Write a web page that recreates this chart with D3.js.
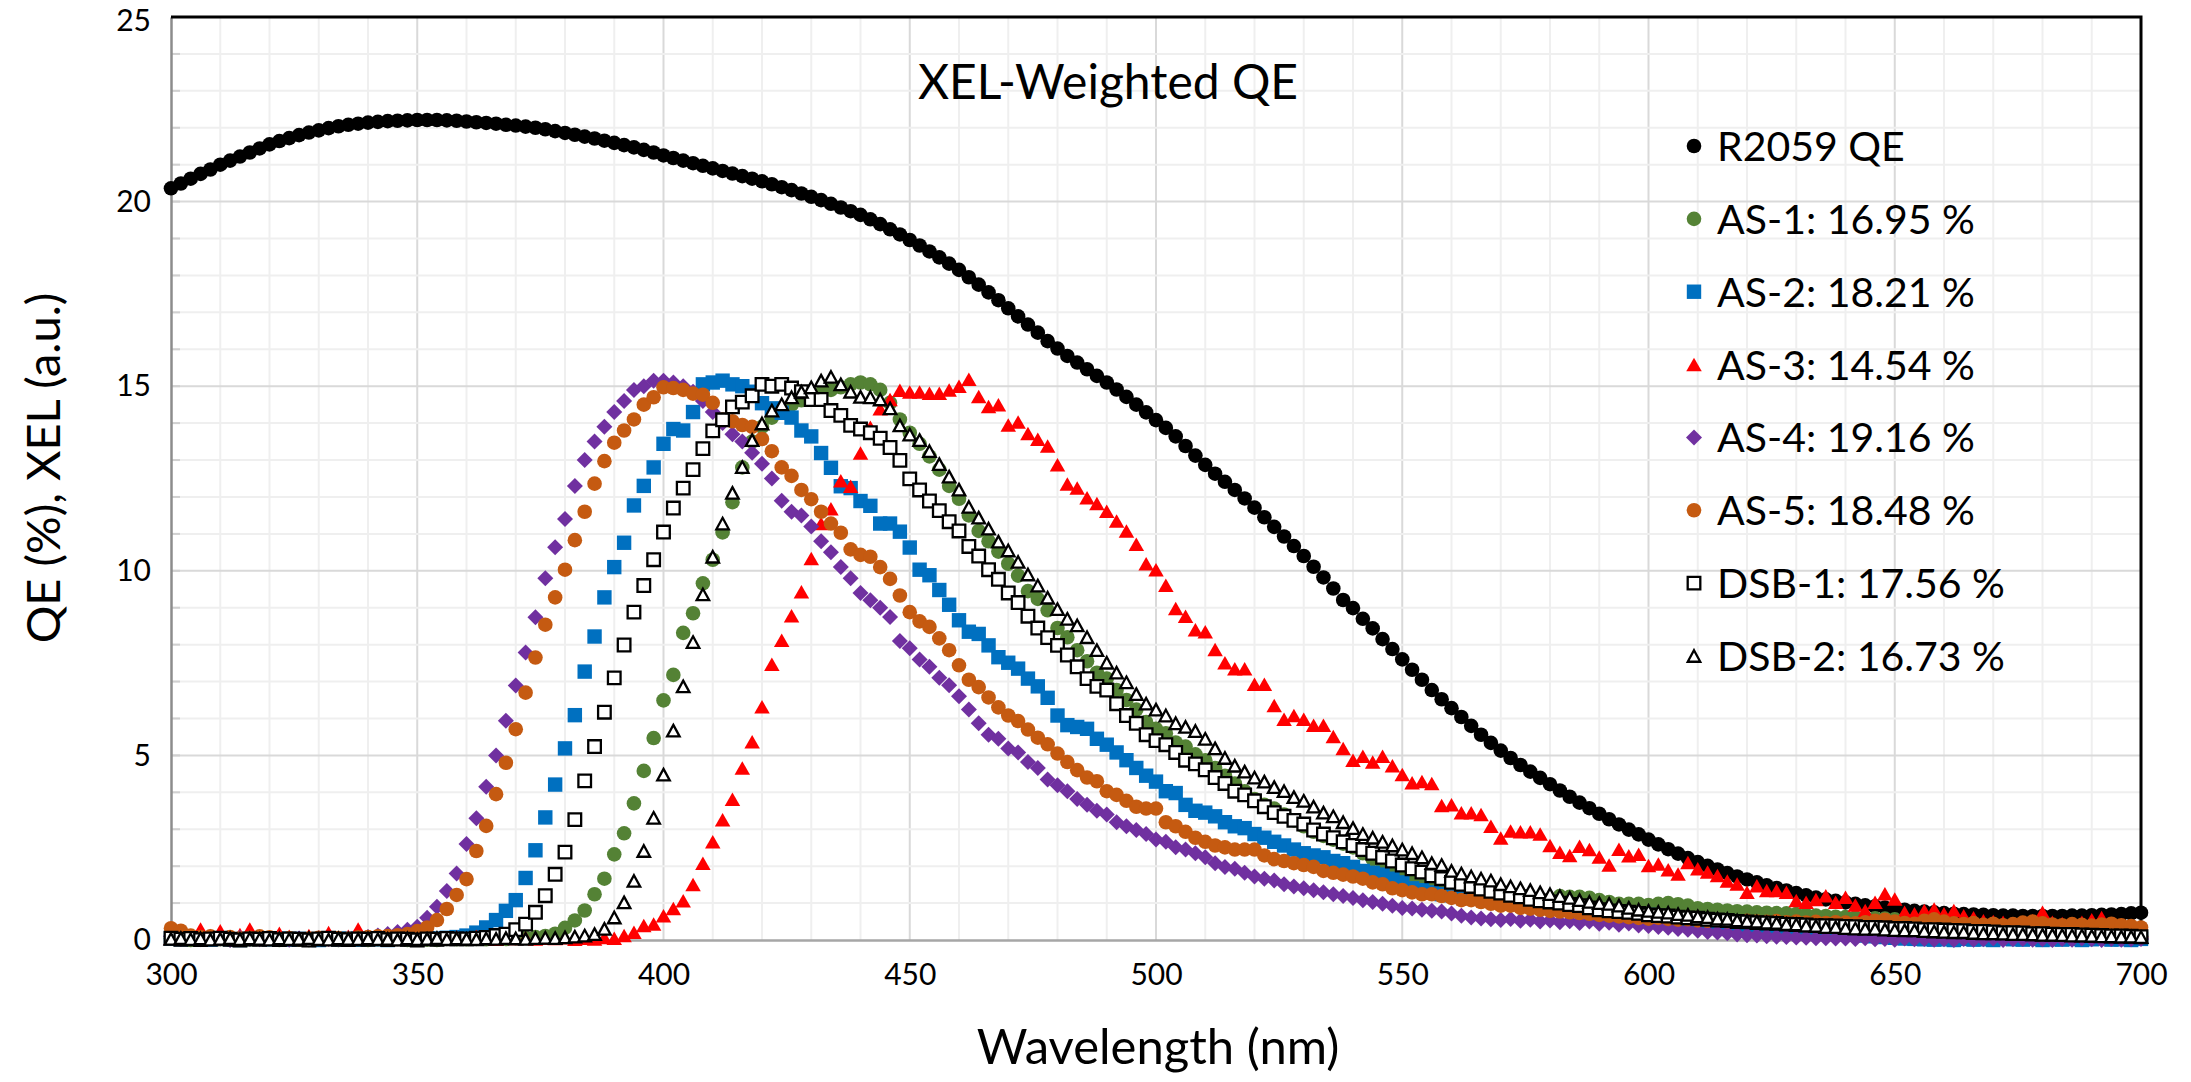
<!DOCTYPE html>
<html>
<head>
<meta charset="utf-8">
<script src="https://cdn.jsdelivr.net/npm/d3@7"></script>
<style>
  html, body { margin: 0; padding: 0; background: #fff; }
  svg { display: block; font-family: "Lato", "Noto Sans", sans-serif; }
</style>
</head>
<body>
<svg id="chart" width="2191" height="1082"></svg>
<script>
// ---------------- DATA ----------------
const wavelengths = d3.range(300, 702, 2); // 300 ... 700 nm, 2 nm step

const r2059QE = [
  20.36, 20.49, 20.62, 20.75, 20.87, 21.00, 21.11, 21.22, 21.33, 21.44,
  21.55, 21.64, 21.72, 21.80, 21.87, 21.93, 21.99, 22.04, 22.08, 22.11,
  22.14, 22.16, 22.18, 22.19, 22.20, 22.21, 22.21, 22.21, 22.20, 22.19,
  22.17, 22.15, 22.13, 22.11, 22.08, 22.06, 22.03, 22.00, 21.96, 21.91,
  21.86, 21.81, 21.76, 21.71, 21.65, 21.59, 21.53, 21.47, 21.40, 21.33,
  21.25, 21.18, 21.11, 21.04, 20.97, 20.90, 20.83, 20.76, 20.69, 20.62,
  20.55, 20.47, 20.39, 20.31, 20.22, 20.13, 20.04, 19.94, 19.84, 19.74,
  19.64, 19.52, 19.39, 19.25, 19.11, 18.96, 18.81, 18.65, 18.49, 18.32,
  18.15, 17.95, 17.75, 17.54, 17.33, 17.11, 16.89, 16.67, 16.45, 16.22,
  16.02, 15.82, 15.64, 15.46, 15.28, 15.10, 14.91, 14.71, 14.50, 14.29,
  14.08, 13.87, 13.64, 13.38, 13.12, 12.87, 12.63, 12.41, 12.19, 11.96,
  11.71, 11.45, 11.19, 10.93, 10.67, 10.40, 10.11, 9.82, 9.52, 9.21,
  8.99, 8.70, 8.44, 8.15, 7.88, 7.60, 7.32, 7.05, 6.77, 6.52,
  6.28, 6.04, 5.80, 5.56, 5.34, 5.13, 4.93, 4.74, 4.56, 4.39,
  4.22, 4.05, 3.88, 3.72, 3.57, 3.42, 3.27, 3.13, 2.99, 2.86,
  2.72, 2.59, 2.46, 2.34, 2.22, 2.11, 2.01, 1.91, 1.81, 1.72,
  1.64, 1.56, 1.48, 1.41, 1.34, 1.27, 1.21, 1.15, 1.10, 1.06,
  1.02, 0.98, 0.94, 0.91, 0.88, 0.85, 0.82, 0.79, 0.77, 0.75,
  0.73, 0.71, 0.70, 0.69, 0.68, 0.67, 0.66, 0.66, 0.65, 0.65,
  0.65, 0.65, 0.65, 0.66, 0.66, 0.67, 0.68, 0.69, 0.70, 0.72,
  0.74
];

const as1 = [
  0.05, 0.02, 0.00, 0.03, 0.06, 0.02, 0.00, 0.04, 0.01, 0.03,
  0.02, 0.00, 0.03, 0.01, 0.00, 0.02, 0.04, 0.00, 0.02, 0.01,
  0.00, 0.02, 0.01, 0.03, 0.00, 0.02, 0.01, 0.00, 0.03, 0.02,
  0.02, 0.03, 0.02, 0.04, 0.03, 0.05, 0.06, 0.08, 0.11, 0.17,
  0.33, 0.53, 0.80, 1.24, 1.66, 2.32, 2.89, 3.70, 4.58, 5.47,
  6.49, 7.18, 8.32, 8.85, 9.66, 10.30, 11.04, 11.86, 12.80, 13.50,
  13.90, 14.15, 14.35, 14.50, 14.62, 14.72, 14.82, 14.90, 14.97, 15.05,
  15.10, 15.05, 14.90, 14.55, 14.10, 13.74, 13.44, 13.10, 12.74, 12.30,
  11.95, 11.50, 11.08, 10.80, 10.52, 10.19, 9.87, 9.45, 9.24, 8.93,
  8.45, 8.20, 7.85, 7.55, 7.24, 7.08, 6.77, 6.50, 6.24, 5.90,
  5.72, 5.60, 5.35, 5.24, 5.03, 4.87, 4.66, 4.45, 4.24, 4.03,
  3.82, 3.66, 3.56, 3.40, 3.24, 3.08, 2.93, 2.82, 2.72, 2.61,
  2.51, 2.35, 2.19, 2.08, 1.98, 1.87, 1.72, 1.61, 1.51, 1.45,
  1.40, 1.32, 1.29, 1.24, 1.19, 1.17, 1.14, 1.14, 1.10, 1.08,
  1.06, 1.19, 1.17, 1.17, 1.14, 1.08, 1.03, 0.98, 0.98, 0.98,
  0.95, 0.98, 1.00, 0.97, 0.93, 0.86, 0.84, 0.82, 0.80, 0.78,
  0.77, 0.75, 0.74, 0.73, 0.72, 0.70, 0.68, 0.66, 0.65, 0.63,
  0.62, 0.61, 0.60, 0.59, 0.58, 0.56, 0.55, 0.53, 0.50, 0.48,
  0.45, 0.43, 0.40, 0.36, 0.30, 0.22, 0.05, 0.28, 0.25, 0.22,
  0.20, 0.02, 0.18, 0.16, 0.15, 0.14, 0.12, 0.11, 0.10, 0.10,
  0.10
];

const as2 = [
  0.04, 0.02, 0.05, 0.03, 0.01, 0.04, 0.02, 0.00, 0.03, 0.05,
  0.02, 0.04, 0.01, 0.03, 0.02, 0.00, 0.03, 0.02, 0.04, 0.01,
  0.03, 0.02, 0.00, 0.04, 0.03, 0.02, 0.05, 0.04, 0.06, 0.08,
  0.12, 0.20, 0.34, 0.54, 0.79, 1.08, 1.68, 2.43, 3.32, 4.21,
  5.19, 6.09, 7.27, 8.22, 9.28, 10.10, 10.76, 11.77, 12.30, 12.80,
  13.44, 13.84, 13.80, 14.30, 15.05, 15.10, 15.15, 15.05, 15.00, 14.85,
  14.54, 14.40, 14.28, 14.15, 13.80, 13.64, 13.19, 12.79, 12.29, 12.24,
  11.89, 11.76, 11.28, 11.28, 11.06, 10.63, 10.03, 9.88, 9.48, 9.08,
  8.66, 8.35, 8.29, 7.98, 7.66, 7.51, 7.35, 7.08, 6.87, 6.56,
  6.08, 5.82, 5.77, 5.72, 5.45, 5.29, 5.08, 4.87, 4.66, 4.45,
  4.29, 4.03, 3.98, 3.66, 3.50, 3.45, 3.35, 3.19, 3.08, 3.03,
  2.87, 2.77, 2.66, 2.56, 2.45, 2.35, 2.29, 2.24, 2.14, 2.08,
  1.98, 1.87, 1.82, 1.77, 1.66, 1.56, 1.40, 1.35, 1.29, 1.24,
  1.21, 1.19, 1.16, 1.12, 1.10, 1.07, 1.03, 1.00, 0.98, 0.95,
  0.92, 0.90, 0.87, 0.84, 0.82, 0.79, 0.76, 0.74, 0.72, 0.70,
  0.68, 0.65, 0.62, 0.58, 0.55, 0.52, 0.49, 0.46, 0.43, 0.40,
  0.38, 0.35, 0.33, 0.30, 0.28, 0.26, 0.24, 0.22, 0.20, 0.18,
  0.16, 0.14, 0.12, 0.10, 0.08, 0.06, 0.04, 0.03, 0.02, 0.01,
  0.02, 0.00, 0.03, 0.01, 0.02, 0.00, 0.04, 0.02, 0.01, 0.03,
  0.00, 0.02, 0.01, 0.03, 0.00, 0.02, 0.04, 0.01, 0.02, 0.00,
  0.03
];

const as3 = [
  0.05, 0.22, 0.08, 0.30, 0.12, 0.25, 0.05, 0.15, 0.30, 0.10,
  0.06, 0.18, 0.10, 0.04, 0.12, 0.08, 0.20, 0.05, 0.10, 0.30,
  0.08, 0.02, 0.12, 0.06, 0.15, 0.04, 0.10, 0.05, 0.02, 0.08,
  0.03, 0.10, 0.05, 0.02, 0.08, 0.04, 0.06, 0.03, 0.05, 0.04,
  0.06, 0.02, 0.05, 0.03, 0.07, 0.05, 0.12, 0.21, 0.39, 0.43,
  0.66, 0.85, 1.06, 1.50, 2.08, 2.66, 3.26, 3.81, 4.66, 5.37,
  6.32, 7.47, 8.12, 8.78, 9.43, 10.33, 11.28, 11.68, 12.44, 12.29,
  13.19, 13.89, 14.39, 14.64, 14.89, 14.84, 14.84, 14.81, 14.81, 14.90,
  15.00, 15.19, 14.72, 14.45, 14.50, 13.95, 14.03, 13.72, 13.56, 13.38,
  12.87, 12.35, 12.24, 11.98, 11.82, 11.61, 11.35, 11.08, 10.72, 10.19,
  10.03, 9.61, 8.98, 8.77, 8.40, 8.35, 7.87, 7.51, 7.35, 7.35,
  6.93, 6.93, 6.35, 5.98, 6.08, 5.98, 5.82, 5.82, 5.51, 5.19,
  4.87, 4.98, 4.82, 4.98, 4.72, 4.48, 4.26, 4.29, 4.24, 3.64,
  3.66, 3.45, 3.45, 3.40, 3.08, 2.76, 2.95, 2.93, 2.93, 2.87,
  2.56, 2.38, 2.29, 2.54, 2.45, 2.25, 2.03, 2.46, 2.28, 2.32,
  2.02, 2.06, 1.90, 1.79, 2.10, 1.93, 1.84, 1.75, 1.60, 1.52,
  1.29, 1.47, 1.34, 1.34, 1.29, 1.07, 1.02, 1.10, 1.20, 1.02,
  1.16, 0.95, 0.80, 1.02, 1.25, 1.11, 0.75, 0.71, 0.80, 0.84,
  0.71, 0.80, 0.66, 0.60, 0.52, 0.50, 0.48, 0.39, 0.45, 0.52,
  0.75, 0.48, 0.45, 0.43, 0.48, 0.55, 0.61, 0.43, 0.35, 0.30,
  0.25
];

const as4 = [
  0.10, 0.03, 0.05, 0.02, 0.08, 0.04, 0.00, 0.06, 0.03, 0.02,
  0.05, 0.03, 0.01, 0.04, 0.02, 0.05, 0.03, 0.02, 0.04, 0.06,
  0.08, 0.12, 0.16, 0.22, 0.28, 0.36, 0.60, 0.90, 1.33, 1.80,
  2.60, 3.30, 4.15, 5.00, 5.94, 6.89, 7.79, 8.74, 9.80, 10.64,
  11.40, 12.30, 13.00, 13.50, 13.90, 14.30, 14.60, 14.90, 15.00, 15.15,
  15.15, 15.10, 15.00, 14.85, 14.60, 14.30, 14.00, 13.70, 13.50, 13.20,
  12.90, 12.50, 11.90, 11.60, 11.50, 11.20, 10.80, 10.50, 10.10, 9.80,
  9.40, 9.20, 9.00, 8.75, 8.10, 7.90, 7.60, 7.40, 7.10, 6.90,
  6.60, 6.24, 5.87, 5.56, 5.45, 5.19, 5.08, 4.82, 4.66, 4.35,
  4.19, 4.03, 3.82, 3.66, 3.50, 3.40, 3.19, 3.08, 2.98, 2.87,
  2.72, 2.66, 2.51, 2.45, 2.35, 2.24, 2.08, 1.98, 1.93, 1.82,
  1.72, 1.66, 1.61, 1.51, 1.45, 1.40, 1.35, 1.29, 1.24, 1.19,
  1.14, 1.08, 1.03, 0.98, 0.93, 0.87, 0.85, 0.82, 0.79, 0.77,
  0.72, 0.66, 0.61, 0.58, 0.56, 0.54, 0.57, 0.52, 0.55, 0.50,
  0.53, 0.48, 0.51, 0.46, 0.50, 0.44, 0.47, 0.41, 0.45, 0.39,
  0.38, 0.35, 0.33, 0.30, 0.28, 0.25, 0.22, 0.20, 0.18, 0.15,
  0.13, 0.12, 0.10, 0.09, 0.08, 0.07, 0.06, 0.05, 0.05, 0.04,
  0.04, 0.03, 0.05, 0.02, 0.03, 0.01, 0.04, 0.02, 0.03, 0.01,
  0.02, 0.00, 0.03, 0.01, 0.02, 0.04, 0.00, 0.02, 0.03, 0.01,
  0.02, 0.00, 0.03, 0.01, 0.04, 0.02, 0.00, 0.03, 0.01, 0.02,
  0.03
];

const as5 = [
  0.32, 0.25, 0.12, 0.08, 0.10, 0.05, 0.08, 0.04, 0.06, 0.10,
  0.07, 0.03, 0.05, 0.02, 0.04, 0.06, 0.03, 0.05, 0.04, 0.07,
  0.08, 0.10, 0.11, 0.13, 0.16, 0.24, 0.34, 0.54, 0.84, 1.22,
  1.65, 2.41, 3.09, 3.95, 4.80, 5.71, 6.70, 7.65, 8.54, 9.28,
  10.03, 10.83, 11.60, 12.36, 12.97, 13.47, 13.80, 14.10, 14.50, 14.70,
  14.97, 14.95, 14.90, 14.80, 14.77, 14.55, 14.10, 14.05, 13.95, 13.90,
  13.57, 13.24, 12.80, 12.57, 12.19, 11.94, 11.60, 11.28, 11.03, 10.58,
  10.43, 10.38, 10.10, 9.78, 9.33, 8.88, 8.63, 8.48, 8.17, 7.85,
  7.44, 7.05, 6.85, 6.57, 6.30, 6.08, 5.93, 5.70, 5.48, 5.30,
  5.05, 4.82, 4.60, 4.40, 4.30, 4.03, 3.93, 3.77, 3.61, 3.56,
  3.56, 3.19, 3.08, 2.93, 2.77, 2.66, 2.56, 2.51, 2.45, 2.45,
  2.45, 2.29, 2.19, 2.14, 2.08, 2.03, 1.98, 1.87, 1.82, 1.77,
  1.72, 1.66, 1.56, 1.51, 1.40, 1.35, 1.29, 1.24, 1.24, 1.19,
  1.14, 1.08, 1.08, 1.03, 0.98, 0.93, 0.93, 0.87, 0.85, 0.82,
  0.79, 0.77, 0.75, 0.73, 0.71, 0.68, 0.66, 0.64, 0.62, 0.60,
  0.58, 0.60, 0.57, 0.55, 0.56, 0.53, 0.52, 0.54, 0.51, 0.50,
  0.52, 0.50, 0.49, 0.51, 0.48, 0.50, 0.47, 0.49, 0.46, 0.48,
  0.47, 0.45, 0.48, 0.52, 0.55, 0.50, 0.46, 0.44, 0.52, 0.56,
  0.50, 0.45, 0.43, 0.46, 0.41, 0.44, 0.40, 0.43, 0.47, 0.50,
  0.45, 0.42, 0.40, 0.43, 0.41, 0.39, 0.42, 0.44, 0.40, 0.38,
  0.34
];

const dsb1 = [
  0.05, 0.02, 0.04, 0.01, 0.03, 0.05, 0.02, 0.00, 0.03, 0.02,
  0.04, 0.01, 0.03, 0.02, 0.00, 0.03, 0.05, 0.02, 0.01, 0.03,
  0.02, 0.04, 0.01, 0.03, 0.02, 0.00, 0.03, 0.02, 0.04, 0.03,
  0.03, 0.05, 0.07, 0.12, 0.16, 0.28, 0.43, 0.75, 1.20, 1.78,
  2.38, 3.26, 4.31, 5.24, 6.17, 7.10, 7.99, 8.88, 9.60, 10.30,
  11.05, 11.70, 12.24, 12.74, 13.31, 13.79, 14.09, 14.44, 14.57, 14.74,
  15.05, 15.00, 15.05, 14.95, 14.85, 14.64, 14.64, 14.34, 14.21, 13.94,
  13.84, 13.74, 13.59, 13.34, 12.99, 12.49, 12.19, 11.89, 11.63, 11.33,
  11.08, 10.66, 10.40, 10.03, 9.77, 9.40, 9.14, 8.77, 8.45, 8.19,
  7.98, 7.72, 7.40, 7.08, 6.87, 6.77, 6.40, 6.08, 5.87, 5.56,
  5.40, 5.29, 5.08, 4.87, 4.77, 4.61, 4.40, 4.24, 4.03, 3.93,
  3.77, 3.61, 3.45, 3.35, 3.24, 3.14, 2.98, 2.87, 2.77, 2.66,
  2.56, 2.45, 2.35, 2.24, 2.14, 2.03, 1.93, 1.84, 1.74, 1.66,
  1.56, 1.51, 1.45, 1.38, 1.32, 1.27, 1.21, 1.17, 1.10, 1.06,
  1.03, 1.00, 0.96, 0.93, 0.87, 0.82, 0.79, 0.77, 0.75, 0.72,
  0.68, 0.66, 0.65, 0.62, 0.60, 0.59, 0.56, 0.54, 0.53, 0.50,
  0.49, 0.47, 0.46, 0.45, 0.43, 0.42, 0.41, 0.39, 0.39, 0.38,
  0.37, 0.36, 0.34, 0.34, 0.33, 0.31, 0.31, 0.30, 0.28, 0.28,
  0.27, 0.26, 0.25, 0.23, 0.23, 0.22, 0.20, 0.20, 0.19, 0.17,
  0.17, 0.16, 0.15, 0.15, 0.14, 0.13, 0.12, 0.11, 0.11, 0.10,
  0.09
];

const dsb2 = [
  0.03, 0.05, 0.02, 0.04, 0.01, 0.03, 0.05, 0.02, 0.04, 0.03,
  0.01, 0.04, 0.02, 0.03, 0.05, 0.02, 0.01, 0.04, 0.03, 0.02,
  0.04, 0.02, 0.03, 0.01, 0.04, 0.02, 0.03, 0.05, 0.02, 0.04,
  0.03, 0.02, 0.04, 0.03, 0.05, 0.04, 0.03, 0.05, 0.06, 0.05,
  0.07, 0.09, 0.12, 0.16, 0.30, 0.61, 1.02, 1.60, 2.41, 3.31,
  4.48, 5.67, 6.87, 8.07, 9.36, 10.38, 11.28, 12.11, 12.81, 13.54,
  13.99, 14.34, 14.51, 14.70, 14.85, 14.97, 15.15, 15.25, 15.05, 14.85,
  14.71, 14.70, 14.64, 14.40, 13.94, 13.69, 13.54, 13.24, 12.89, 12.55,
  12.20, 11.73, 11.44, 11.14, 10.79, 10.55, 10.24, 9.90, 9.60, 9.27,
  8.96, 8.70, 8.52, 8.20, 7.85, 7.51, 7.24, 6.98, 6.66, 6.40,
  6.24, 6.08, 5.87, 5.77, 5.66, 5.45, 5.19, 4.93, 4.72, 4.56,
  4.40, 4.29, 4.14, 4.03, 3.87, 3.77, 3.61, 3.45, 3.35, 3.19,
  3.03, 2.87, 2.77, 2.66, 2.56, 2.45, 2.35, 2.24, 2.08, 2.03,
  1.87, 1.80, 1.72, 1.66, 1.61, 1.51, 1.45, 1.40, 1.35, 1.29,
  1.24, 1.19, 1.14, 1.08, 1.03, 1.00, 0.98, 0.93, 0.87, 0.82,
  0.79, 0.76, 0.74, 0.70, 0.68, 0.64, 0.62, 0.58, 0.57, 0.53,
  0.51, 0.50, 0.47, 0.46, 0.43, 0.42, 0.39, 0.38, 0.35, 0.35,
  0.32, 0.31, 0.30, 0.30, 0.28, 0.27, 0.26, 0.26, 0.24, 0.23,
  0.22, 0.21, 0.21, 0.19, 0.18, 0.18, 0.17, 0.16, 0.16, 0.15,
  0.14, 0.14, 0.13, 0.12, 0.12, 0.11, 0.10, 0.10, 0.09, 0.09,
  0.08
];

const seriesNames  = ["R2059 QE", "AS-1", "AS-2", "AS-3", "AS-4", "AS-5", "DSB-1", "DSB-2"];
const legendLabels = ["R2059 QE", "AS-1: 16.95 %", "AS-2: 18.21 %", "AS-3: 14.54 %", "AS-4: 19.16 %",
                      "AS-5: 18.48 %", "DSB-1: 17.56 %", "DSB-2: 16.73 %"];
const seriesValues = [r2059QE, as1, as2, as3, as4, as5, dsb1, dsb2];

const xTicks = [300, 350, 400, 450, 500, 550, 600, 650, 700];
const yTicks = [0, 5, 10, 15, 20, 25];

const chartTitle = "XEL-Weighted QE";
const xTitle = "Wavelength (nm)";
const yTitle = "QE (%), XEL (a.u.)";

// ---------------- STYLES ----------------
const styles = [
  { shape: "circle",   fill: "#000000", stroke: "none" },
  { shape: "circle",   fill: "#548235", stroke: "none" },
  { shape: "square",   fill: "#0070C0", stroke: "none" },
  { shape: "triangle", fill: "#FF0000", stroke: "none" },
  { shape: "diamond",  fill: "#7030A0", stroke: "none" },
  { shape: "circle",   fill: "#C55A11", stroke: "none" },
  { shape: "osquare",  fill: "#FFFFFF", stroke: "#000000" },
  { shape: "otriangle",fill: "#FFFFFF", stroke: "#000000" }
];

function markerPath(shape) {
  switch (shape) {
    case "circle":   return d3.symbol().type(d3.symbolCircle).size(Math.PI * 7.3 * 7.3)();
    case "square":   { const h = 7.2; return `M${-h},${-h}H${h}V${h}H${-h}Z`; }
    case "osquare":  { const h = 6.3; return `M${-h},${-h}H${h}V${h}H${-h}Z`; }
    case "diamond":  { const h = 8; return `M0,${-h}L${h},0L0,${h}L${-h},0Z`; }
    case "triangle": { const w = 15.5, t = 13.5; return `M0,${-t/2}L${w/2},${t/2}L${-w/2},${t/2}Z`; }
    case "otriangle":{ const w = 12.5, t = 11.5; return `M0,${-t/2}L${w/2},${t/2}L${-w/2},${t/2}Z`; }
  }
}

// ---------------- CHART ----------------
const svg = d3.select("#chart");
const x = d3.scaleLinear().domain([300, 700]).range([171, 2141]);
const y = d3.scaleLinear().domain([0, 25]).range([940, 17]);

// gridlines
const grid = svg.append("g");
grid.selectAll("line.vg").data(d3.range(310, 700, 10)).join("line")
  .attr("x1", d => x(d)).attr("x2", d => x(d))
  .attr("y1", y(25)).attr("y2", y(0))
  .attr("stroke", d => d % 50 === 0 ? "#d9d9d9" : "#efefef")
  .attr("stroke-width", 2);
grid.selectAll("line.hg").data(d3.range(1, 25, 1)).join("line")
  .attr("x1", x(300)).attr("x2", x(700))
  .attr("y1", d => y(d)).attr("y2", d => y(d))
  .attr("stroke", d => d % 5 === 0 ? "#d9d9d9" : "#efefef")
  .attr("stroke-width", 2);

// minor ticks on left axis (inside)
grid.selectAll("line.mt").data(d3.range(1, 25, 1)).join("line")
  .attr("x1", x(300)).attr("x2", x(300) + 9)
  .attr("y1", d => y(d)).attr("y2", d => y(d))
  .attr("stroke", "#d0d0d0").attr("stroke-width", 2);

// axes
const yAxis = d3.axisLeft(y).tickValues(yTicks).tickSize(0).tickPadding(20);
const gy = svg.append("g").attr("transform", `translate(${x(300)},0)`).call(yAxis);
gy.select(".domain").attr("stroke", "#8c8c8c").attr("stroke-width", 2.5);
gy.selectAll("text").attr("font-size", 30).attr("font-family", "Lato").attr("fill", "#000");
// keep the top label ("25") fully inside the picture
gy.selectAll(".tick").filter(d => d === 25).select("text").attr("dy", "0.46em");

const xAxis = d3.axisBottom(x).tickValues(xTicks).tickSize(0).tickPadding(24);
const gx = svg.append("g").attr("transform", `translate(0,${y(0)})`).call(xAxis);
gx.select(".domain").attr("stroke", "#a6a6a6").attr("stroke-width", 2.5);
gx.selectAll("text").attr("font-size", 30).attr("font-family", "Lato").attr("fill", "#000");

// top and right borders
svg.append("path")
  .attr("d", `M${x(300)},${y(25)}H${x(700)}V${y(0)}`)
  .attr("fill", "none").attr("stroke", "#000").attr("stroke-width", 3);

// series
seriesValues.forEach((vals, si) => {
  const st = styles[si];
  const pts = wavelengths.map((w, i) => ({ w, v: vals[i] }));
  svg.append("g").attr("class", "series")
    .selectAll("path").data(pts).join("path")
    .attr("d", markerPath(st.shape))
    .attr("transform", d => `translate(${x(d.w)},${y(d.v)})`)
    .attr("fill", st.fill)
    .attr("stroke", st.stroke)
    .attr("stroke-width", st.stroke === "none" ? 0 : 2.3);
});

// title
svg.append("text").attr("x", 1108).attr("y", 99).attr("text-anchor", "middle")
  .attr("font-size", 48).attr("fill", "#000").text(chartTitle);

// axis titles
svg.append("text").attr("x", 1158).attr("y", 1064).attr("text-anchor", "middle")
  .attr("font-size", 49).attr("fill", "#000").text(xTitle);
svg.append("text").attr("transform", "translate(60,468) rotate(-90)").attr("text-anchor", "middle")
  .attr("font-size", 47).attr("fill", "#000").text(yTitle);

// legend
const legendRowY = d3.scaleLinear().domain([0, 7]).range([146, 656]);
const lg = svg.append("g");
legendLabels.forEach((lab, i) => {
  const st = styles[i];
  const cy = legendRowY(i);
  lg.append("path").attr("d", markerPath(st.shape))
    .attr("transform", `translate(1694,${cy})`)
    .attr("fill", st.fill).attr("stroke", st.stroke)
    .attr("stroke-width", st.stroke === "none" ? 0 : 2.3);
  lg.append("text").attr("x", 1717).attr("y", cy + 15)
    .attr("font-size", 41).attr("fill", "#000").text(lab);
});
</script>
</body>
</html>
